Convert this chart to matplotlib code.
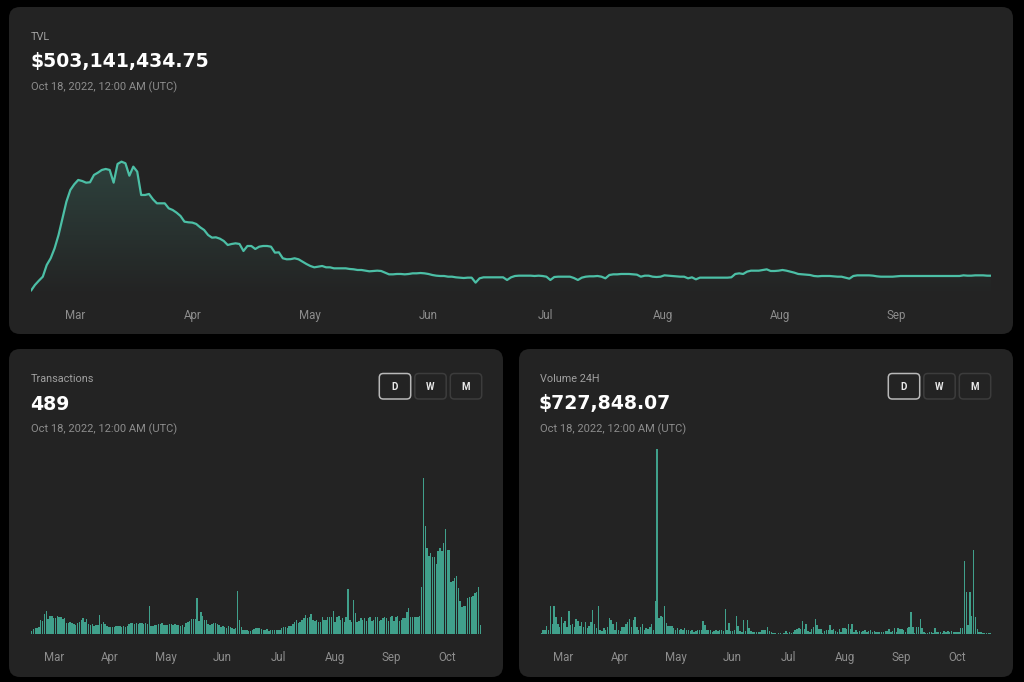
import numpy as np
import matplotlib.pyplot as plt
from matplotlib.patches import FancyBboxPatch
from matplotlib.colors import LinearSegmentedColormap

plt.rcParams['font.family'] = ['Roboto', 'DejaVu Sans']

W, H = 1024, 682

# TVL, $M per day (Feb 17 - Oct 18)
tvl = [
    132, 273, 380, 479, 769, 935, 1183, 1513, 1927, 2339,
    2629, 2770, 2877, 2852, 2810, 2820, 3001, 3058, 3125, 3150,
    3125, 2810, 3274, 3331, 3291, 2983, 3207, 3083, 2505, 2505,
    2530, 2397, 2298, 2298, 2298, 2174, 2133, 2067, 1984, 1843,
    1827, 1820, 1786, 1703, 1637, 1513, 1447, 1455, 1422, 1364,
    1265, 1290, 1306, 1290, 1116, 1240, 1240, 1166, 1223, 1240,
    1240, 1223, 1075, 1083, 935, 910, 914, 935, 910, 851,
    794, 744, 711, 727, 744, 711, 711, 686, 686, 686,
    686, 670, 662, 645, 645, 628, 612, 620, 628, 620,
    579, 537, 537, 546, 546, 537, 546, 562, 562, 570,
    562, 546, 521, 504, 496, 496, 479, 479, 463, 455,
    446, 455, 455, 331, 438, 463, 463, 463, 463, 463,
    463, 397, 463, 496, 504, 504, 504, 504, 496, 504,
    496, 479, 397, 471, 479, 479, 479, 479, 446, 397,
    455, 479, 488, 488, 496, 479, 438, 521, 537, 537,
    546, 546, 546, 537, 529, 479, 504, 504, 479, 471,
    479, 512, 504, 496, 488, 479, 479, 438, 463, 413,
    455, 455, 455, 455, 455, 455, 455, 455, 463, 546,
    562, 546, 604, 628, 628, 628, 645, 661, 620, 620,
    628, 645, 628, 604, 579, 546, 537, 529, 521, 496,
    488, 496, 496, 496, 488, 479, 479, 455, 430, 496,
    512, 512, 512, 512, 504, 488, 479, 479, 479, 479,
    488, 496, 496, 496, 496, 496, 496, 496, 496, 496,
    496, 496, 496, 496, 496, 496, 496, 512, 504, 504,
    512, 512, 512, 504, 503.14,
]
tvl_ticks = [11.2, 41.2, 71.0, 101.0, 130.8, 160.6, 190.3, 220.0]
tvl_tick_labels = ['Mar', 'Apr', 'May', 'Jun', 'Jul', 'Aug', 'Aug', 'Sep']

# daily transactions
transactions = [
    140, 245, 300, 315, 350, 735, 700, 1050, 1225, 790,
    960, 930, 820, 840, 960, 910, 875, 790, 840, 560,
    560, 650, 595, 525, 490, 560, 615, 735, 820, 615,
    770, 525, 490, 525, 440, 490, 470, 1000, 525, 615,
    525, 440, 350, 350, 350, 350, 440, 440, 440, 350,
    440, 350, 440, 525, 580, 560, 525, 560, 525, 580,
    560, 525, 560, 525, 1450, 440, 440, 470, 490, 525,
    525, 560, 470, 490, 470, 525, 525, 490, 525, 470,
    470, 440, 470, 350, 560, 615, 665, 770, 790, 790,
    1890, 665, 1140, 960, 750, 735, 525, 490, 525, 560,
    560, 525, 455, 350, 420, 350, 315, 400, 350, 315,
    260, 300, 2275, 735, 350, 230, 210, 210, 175, 175,
    230, 260, 300, 315, 300, 260, 230, 210, 245, 175,
    210, 210, 210, 210, 210, 230, 300, 350, 350, 315,
    440, 400, 525, 615, 750, 580, 615, 735, 820, 1000,
    820, 910, 1050, 735, 700, 735, 650, 615, 910, 735,
    735, 875, 875, 875, 1225, 615, 875, 930, 735, 820,
    650, 875, 2365, 750, 615, 1785, 1100, 615, 665, 820,
    735, 820, 700, 820, 875, 700, 735, 875, 910, 700,
    735, 820, 875, 820, 700, 910, 960, 665, 910, 960,
    700, 750, 840, 820, 1175, 1350, 875, 910, 910, 910,
    910, 960, 2485, 8190, 5690, 4515, 4110, 4235, 4060, 4060,
    3675, 4375, 4515, 4375, 4760, 5515, 4410, 4410, 2750, 2800,
    2940, 3065, 2415, 1750, 1435, 1490, 1490, 1890, 1925, 1925,
    2015, 2135, 2190, 2450, 489,
]

# daily volume, $M
volume = [
    0.72, 2.64, 3.12, 5.76, 3.12, 20.16, 7.44, 19.92, 12.24, 7.44,
    5.04, 12.24, 7.92, 9.12, 5.04, 16.32, 6.24, 7.44, 5.04, 11.04,
    9.12, 5.52, 8.64, 5.04, 8.64, 4.56, 5.52, 8.64, 17.52, 7.44,
    4.56, 19.92, 3.12, 2.16, 4.56, 2.64, 5.04, 11.76, 10.32, 7.44,
    3.12, 8.64, 2.64, 2.16, 5.04, 5.04, 7.44, 8.64, 11.04, 5.04,
    9.84, 12.24, 5.04, 2.64, 5.04, 6.96, 3.12, 4.56, 3.84, 5.04,
    7.44, 2.64, 23.76, 133.2, 11.28, 12.72, 12.0, 20.4, 7.68, 6.0,
    5.52, 6.0, 4.56, 3.12, 4.56, 2.64, 3.84, 2.64, 4.56, 2.64,
    3.12, 2.16, 3.12, 1.44, 2.16, 2.64, 3.12, 2.64, 9.12, 6.24,
    3.12, 2.64, 3.12, 1.44, 2.16, 3.12, 2.16, 3.12, 2.64, 2.16,
    18.24, 3.12, 8.16, 2.16, 2.16, 2.64, 12.72, 5.52, 2.16, 1.44,
    9.84, 2.16, 9.84, 4.56, 2.16, 1.68, 1.2, 1.44, 1.44, 1.68,
    3.12, 3.12, 2.64, 5.04, 2.16, 1.44, 0.96, 0.48, 0.24, 0.48,
    0.48, 0.24, 0.48, 1.92, 0.48, 1.2, 0.72, 1.44, 2.88, 3.6,
    4.08, 3.6, 9.6, 3.36, 7.2, 2.4, 1.44, 3.36, 4.8, 10.56,
    6.48, 3.36, 3.36, 0.96, 1.92, 2.88, 2.88, 6.72, 2.88, 3.36,
    2.4, 1.68, 3.36, 1.68, 4.08, 4.08, 3.36, 7.2, 3.36, 7.2,
    1.68, 2.88, 1.68, 2.4, 1.68, 2.4, 2.88, 1.68, 2.4, 2.88,
    1.68, 1.92, 1.68, 1.68, 1.68, 1.44, 1.68, 1.92, 2.4, 3.36,
    1.68, 2.16, 4.08, 1.68, 4.08, 3.6, 3.36, 2.88, 1.68, 4.08,
    4.8, 15.6, 4.8, 0.96, 4.8, 5.28, 10.56, 4.08, 1.44, 0.96,
    0.96, 1.68, 1.44, 0.96, 4.32, 1.68, 1.44, 1.68, 0.96, 2.4,
    1.68, 2.4, 1.68, 1.92, 1.44, 1.44, 1.68, 1.44, 4.08, 4.08,
    52.8, 30.48, 6.48, 30.48, 12.72, 60.72, 12.0, 3.6, 1.68, 1.2,
    0.96, 0.72, 0.72, 0.48, 0.73,
]
month_ticks = [12, 42.6, 73, 103.8, 134.2, 165, 195.6, 226]
month_labels = ['Mar', 'Apr', 'May', 'Jun', 'Jul', 'Aug', 'Sep', 'Oct']

BG = '#000000'
PANEL = '#232323'
TEAL = '#4cbfa6'
BAR = '#40a08b'
GREY = '#8d8d8d'


def add_ax_px(x0, y0, x1, y1):
    a = fig.add_axes([x0 / W, 1 - y1 / H, (x1 - x0) / W, (y1 - y0) / H])
    a.set_facecolor('none')
    for s in a.spines.values():
        s.set_visible(False)
    a.set_yticks([])
    return a


fig = plt.figure(figsize=(W / 100, H / 100), dpi=100, facecolor=BG)

# background layer in pixel units
bg = fig.add_axes([0, 0, 1, 1])
bg.set_xlim(0, W)
bg.set_ylim(H, 0)
bg.axis('off')

for (x0, y0, x1, y1) in [(9, 7, 1013, 334), (9, 349, 503, 677), (519, 349, 1013, 677)]:
    bg.add_patch(FancyBboxPatch((x0, y0), x1 - x0, y1 - y0,
                                boxstyle='round,pad=0,rounding_size=11',
                                fc=PANEL, ec='none'))


def header(x, label, value, y_top):
    bg.text(x, y_top, label, color='#a0a0a0', fontsize=7.8, va='center', ha='left')
    bg.text(x - 1, y_top + 25, value, color='white', fontsize=13.6, fontweight='bold',
            va='center', ha='left', family='DejaVu Sans')
    bg.text(x, y_top + 50, 'Oct 18, 2022, 12:00 AM (UTC)', color=GREY, fontsize=8,
            va='center', ha='left')


header(31, 'TVL', '$503,141,434.75', 37)
header(31, 'Transactions', '489', 379)
header(540, 'Volume 24H', '$727,848.07', 379)

# D / W / M buttons
for x_right in [481.7, 990.7]:
    for k, lab in enumerate(['D', 'W', 'M']):
        x0 = x_right - 31.4 - (2 - k) * 35.5
        ec = '#b8b8b8' if lab == 'D' else '#3c3c3c'
        bg.add_patch(FancyBboxPatch((x0, 373.5), 31.4, 25.5,
                                    boxstyle='round,pad=0,rounding_size=4',
                                    fc=PANEL, ec=ec, lw=1.1))
        bg.text(x0 + 15.7, 386.5, lab, color='#e8e8e8', fontsize=7, fontweight='bold',
                ha='center', va='center')

# TVL line chart
n = len(tvl)
days = np.arange(n)
ax = add_ax_px(31, 150, 991, 296)
ymax = 3620
ax.set_xlim(0, n - 1)
ax.set_ylim(0, ymax)
fill = ax.fill_between(days, tvl, 0, color='none', lw=0)
grad = np.linspace(1, 0, 256).reshape(-1, 1)
cmap = LinearSegmentedColormap.from_list('tvl', [PANEL, '#2f4540'])
img = ax.imshow(grad, extent=[0, n - 1, 0, ymax], aspect='auto', cmap=cmap,
                origin='upper', zorder=1)
img.set_clip_path(fill.get_paths()[0], transform=ax.transData)
ax.plot(days, tvl, color=TEAL, lw=1.6, zorder=3, solid_capstyle='round')
ax.set_xticks(tvl_ticks, tvl_tick_labels)
ax.tick_params(axis='x', length=0, colors=GREY, labelsize=8.3, pad=9)

# Transactions bars
axl = add_ax_px(31, 445, 481, 634)
axl.bar(np.arange(len(transactions)), transactions, width=0.78, color=BAR, lw=0)
axl.set_xlim(-0.3, 244.3)
axl.set_ylim(0, 9940)
axl.set_xticks(month_ticks, month_labels)
axl.tick_params(axis='x', length=0, colors=GREY, labelsize=8.3, pad=12.5)

# Volume bars
axr = add_ax_px(540.7, 445, 990.7, 634)
axr.bar(np.arange(len(volume)), volume, width=0.78, color=BAR, lw=0)
axr.set_xlim(-0.3, 244.3)
axr.set_ylim(0, 136)
axr.set_xticks(month_ticks, month_labels)
axr.tick_params(axis='x', length=0, colors=GREY, labelsize=8.3, pad=12.5)

fig.savefig('out.png', dpi=100, facecolor=BG)
